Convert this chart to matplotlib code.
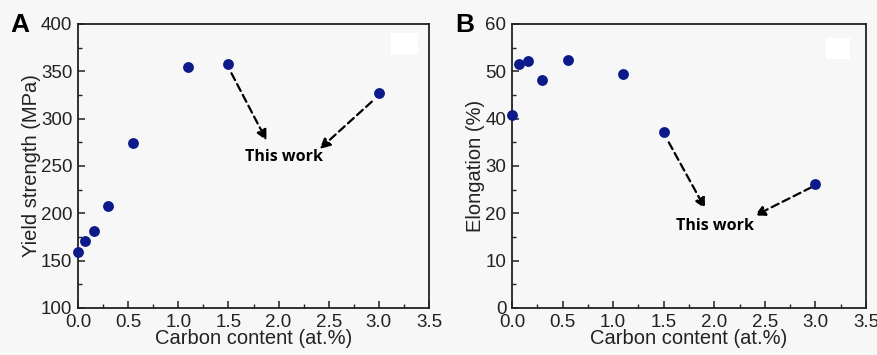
import matplotlib
matplotlib.use("Agg")
import matplotlib.pyplot as plt
from matplotlib.ticker import MultipleLocator
from matplotlib.patches import Rectangle

carbon = [0.0, 0.07, 0.16, 0.30, 0.55, 1.10, 1.50, 3.00]
yield_strength = [159, 171, 181, 208, 274, 355, 358, 327]
elongation = [40.7, 51.6, 52.2, 48.2, 52.3, 49.5, 37.1, 26.3]
xticks = [0.0, 0.5, 1.0, 1.5, 2.0, 2.5, 3.0, 3.5]

bg = '#f7f7f7'
dot = '#0c1a8a'
plt.rcParams['font.family'] = ['Liberation Sans', 'DejaVu Sans']

fig = plt.figure(figsize=(8.77, 3.55), dpi=100, facecolor=bg)
axA = fig.add_axes([78/877, 47/355, 351/877, 284/355])
axB = fig.add_axes([512/877, 47/355, 354/877, 284/355])

def style(ax, ylim, ymaj, ymin, ylabel):
    ax.set_facecolor(bg)
    ax.set_xlim(0, 3.5)
    ax.set_ylim(*ylim)
    ax.set_xticks(xticks)
    ax.set_xticklabels([f"{v:.1f}" for v in xticks])
    ax.xaxis.set_minor_locator(MultipleLocator(0.25))
    ax.yaxis.set_major_locator(MultipleLocator(ymaj))
    ax.yaxis.set_minor_locator(MultipleLocator(ymin))
    ax.tick_params(which='both', direction='in', top=False, right=False,
                   labelsize=13.5, colors='#222222')
    ax.tick_params(axis='x', which='major', pad=4)
    ax.tick_params(axis='y', which='major', pad=4)
    ax.tick_params(which='major', length=5, width=1.1)
    ax.tick_params(which='minor', length=3, width=1.0)
    for s in ax.spines.values():
        s.set_linewidth(1.3)
        s.set_color('#222222')
    ax.set_xlabel('Carbon content (at.%)', fontsize=14.5, labelpad=-1, color='#222222')
    ax.set_ylabel(ylabel, fontsize=14.5, labelpad=0, color='#222222')

style(axA, (100, 400), 50, 25, 'Yield strength (MPa)')
style(axB, (0, 60), 10, 5, 'Elongation (%)')

axA.scatter(carbon, yield_strength, s=46, color=dot, zorder=5, clip_on=False)
axB.scatter(carbon, elongation, s=46, color=dot, zorder=5, clip_on=False)

# empty legend boxes
axA.add_patch(Rectangle((0.892, 0.895), 0.078, 0.075, transform=axA.transAxes,
                        facecolor='white', edgecolor='none', zorder=1))
axB.add_patch(Rectangle((0.887, 0.875), 0.068, 0.075, transform=axB.transAxes,
                        facecolor='white', edgecolor='none', zorder=1))

ap = dict(arrowstyle='-|>', linestyle=(0, (3.5, 2)), lw=1.6, color='black',
          mutation_scale=15, shrinkA=0, shrinkB=0)
# Panel A arrows
axA.annotate('', xy=(1.88, 277), xytext=(1.53, 348), arrowprops=ap)
axA.annotate('', xy=(2.41, 268), xytext=(2.93, 318), arrowprops=ap)
axA.text(2.05, 259, 'This work', ha='center', va='center', fontsize=11.5,
         fontweight='bold', family=['Open Sans', 'DejaVu Sans'])
# Panel B arrows
axB.annotate('', xy=(1.91, 21.0), xytext=(1.55, 35.0), arrowprops=ap)
axB.annotate('', xy=(2.40, 19.5), xytext=(2.96, 25.5), arrowprops=ap)
axB.text(2.01, 17.4, 'This work', ha='center', va='center', fontsize=11.5,
         fontweight='bold', family=['Open Sans', 'DejaVu Sans'])

fig.text(10/877, 1 - 25/355, 'A', fontsize=19, fontweight='bold', va='center', ha='left')
fig.text(455/877, 1 - 25/355, 'B', fontsize=19, fontweight='bold', va='center', ha='left')

fig.savefig('out.png', dpi=100, facecolor=bg)
